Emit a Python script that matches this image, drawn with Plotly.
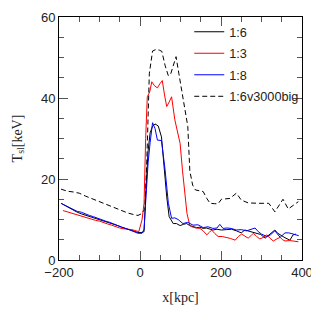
import plotly.graph_objects as go

# ---- data ----
x_16 = [-195,-185,-175,-165,-155,-145,-135,-125,-115,-105,-95,-85,-75,-65,-55,-45,-35,-25,-15,-5,5,10,15,20,25,31,37,45,53,60,66,72,82,90,99,107,115,123,131,140,148,156,164,172,180,190,201,213,226,238,250,259,267,278,288,298,309,321,333,340,346,358,370,378,385]
t_16 = [14.0,13.4,12.8,12.2,11.8,11.4,11.1,10.8,10.4,10.1,9.8,9.5,9.2,8.8,8.5,8.1,7.8,7.4,7.1,6.8,6.8,7.0,18,27,31.4,33.0,33.6,33.1,30.4,22.2,15.6,10.7,9.0,9.0,8.5,8.8,9.0,8.5,8.2,8.0,8.1,7.8,7.9,7.6,7.4,7.6,7.4,7.5,7.6,7.2,6.7,7.4,7.2,6.8,6.6,6.3,5.4,6.4,7.4,6.6,6.2,5.5,4.9,6.2,6.4]

x_13 = [-190,-180,-170,-160,-150,-140,-130,-120,-110,-100,-90,-80,-70,-60,-50,-40,-30,-20,-10,-3,5,10,14,18,24,29,36,43,49,55,61,66,72,78,86,93,99,105,111,116,123,128,138,148,156,165,171,177,185,193,203,214,224,235,243,251,259,267,274,280,288,296,305,313,321,329,338,346,352,358,370,380,391]
t_13 = [12.2,11.9,11.5,11.2,11.0,10.7,10.3,10.0,9.8,9.6,9.2,8.9,8.6,8.2,7.9,7.7,7.6,7.5,7.2,7.0,9.9,14,30,40.3,41.5,44.0,43.0,42.5,43.5,44.3,40.5,37.9,39.0,40.3,34.6,31.5,28.8,22,16.5,11.5,8.5,8.2,7.9,7.8,7.2,6.2,6.8,7.4,6.5,5.8,5.8,5.6,5.3,4.9,5.8,6.4,5.9,5.4,6.0,6.6,5.8,5.2,5.6,6.2,5.4,4.7,5.2,5.6,5.0,4.7,4.8,4.6,4.5]

x_18 = [-195,-185,-175,-165,-155,-145,-135,-125,-115,-105,-95,-85,-75,-65,-55,-45,-35,-25,-15,-5,5,10,15,20,25,31,37,43,53,62,70,78,86,94,106,118,131,143,156,168,180,190,197,205,215,225,238,250,263,275,284,292,300,313,322,333,340,346,358,367,375,387,392]
t_18 = [14.0,13.5,12.8,12.3,12.0,11.8,11.3,11.0,10.7,10.3,10.0,9.6,9.3,8.8,8.5,8.1,7.8,7.4,7.0,6.6,6.6,7.6,16,24,29,33.9,32.5,29.6,29.5,22.2,14.0,10.3,10.4,10.0,9.0,9.3,8.6,8.7,8.0,8.2,7.8,7.9,8.8,7.8,7.9,7.8,7.4,7.5,7.2,7.6,7.9,7.0,6.4,5.8,6.2,7.2,6.4,5.6,6.7,6.7,6.5,6.2,6.0]

x_big = [-195,-180,-165,-150,-135,-120,-105,-90,-75,-60,-45,-30,-15,-5,3,12,17,23,31,40,48,54,62,70,76,83,89,96,103,109,115,118,123,130,137,146,156,165,173,184,193,201,212,222,238,250,267,279,292,304,318,333,343,353,366,380,391]
t_big = [17.5,17.0,16.8,16.5,15.8,15.2,14.6,14.0,13.5,12.8,12.3,11.6,11.2,11.0,11.4,12.5,25,46,51.6,52,51.8,51.5,48,45.5,46,48,50.2,46,42,38,35.5,33,22,18.5,17.3,17.1,16.9,15.2,14.0,13.9,13.9,15.0,15.1,15.2,16.5,14.8,14.1,14.0,14.0,14.0,14.0,11.9,13.3,15.0,12.6,13.5,14.4]

names = ["1:6", "1:3", "1:8", "1:6v3000big"]

fig = go.Figure()
fig.add_trace(go.Scatter(x=x_16, y=t_16, mode="lines", name=names[0],
                         line=dict(color="black", width=1)))
fig.add_trace(go.Scatter(x=x_13, y=t_13, mode="lines", name=names[1],
                         line=dict(color="#ff0000", width=1)))
fig.add_trace(go.Scatter(x=x_18, y=t_18, mode="lines", name=names[2],
                         line=dict(color="#0000ff", width=1)))
fig.add_trace(go.Scatter(x=x_big, y=t_big, mode="lines", name=names[3],
                         line=dict(color="black", width=1, dash="5px,3px")))

axis_common = dict(
    showgrid=False, zeroline=False, showline=True, linecolor="black", linewidth=1,
    mirror="ticks", ticks="inside", ticklen=9, tickwidth=1, tickcolor="#555",
    tickfont=dict(family="Liberation Sans", size=13, color="#222"),
)

fig.update_xaxes(range=[-200, 400], dtick=200, tick0=0,
                 minor=dict(dtick=50, ticklen=5, ticks="inside", tickcolor="#555", showgrid=False),
                 title=dict(text="x[kpc]", font=dict(family="Liberation Serif", size=14, color="#222"), standoff=13),
                 **axis_common)
fig.update_yaxes(range=[0, 60], dtick=20, tick0=0,
                 minor=dict(dtick=5, ticklen=5, ticks="inside", tickcolor="#555", showgrid=False),
                 title=dict(text="T<sub>sl</sub>[keV]", font=dict(family="Liberation Serif", size=14, color="#222"), standoff=15),
                 **axis_common)

# page body has an 8px default margin, so the figure is sized/offset to compensate
fig.update_layout(
    width=311, height=311,
    margin=dict(l=51, r=17, t=9, b=59, pad=0, autoexpand=False),
    paper_bgcolor="white", plot_bgcolor="white",
    showlegend=True,
    legend=dict(x=0.536, y=1.0, xanchor="left", yanchor="top",
                bgcolor="rgba(0,0,0,0)", borderwidth=0,
                font=dict(family="Liberation Sans", size=12.7, color="#222"),
                traceorder="grouped", tracegroupgap=2),
)
for i, tr in enumerate(fig.data):
    tr.legendgroup = f"g{i}"

fig.write_html("out.html")
